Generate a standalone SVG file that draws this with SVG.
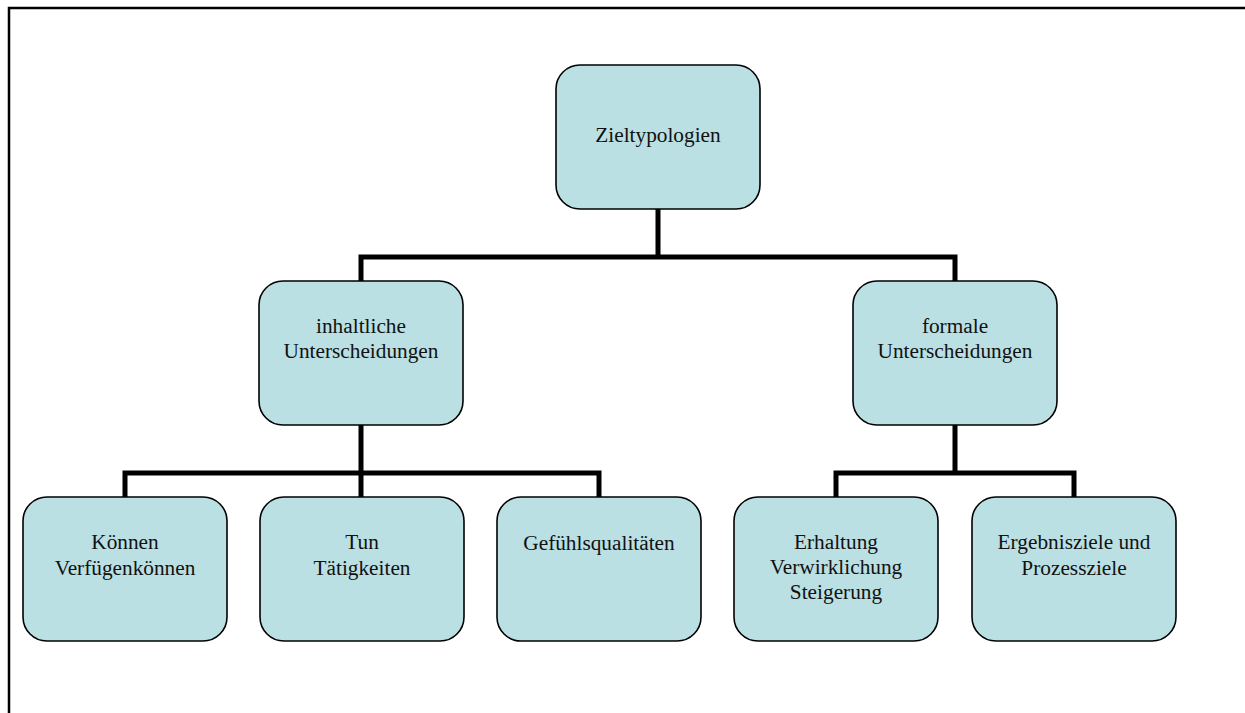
<svg xmlns="http://www.w3.org/2000/svg" width="1245" height="713" viewBox="0 0 1245 713">
<style>
.box{fill:#bbe0e3;stroke:#000;stroke-width:1.6}
.t{font-family:"Liberation Serif","Times New Roman",serif;font-size:21.3px;fill:#111;text-anchor:middle}
.c{fill:none;stroke:#000;stroke-width:5;stroke-linejoin:miter;stroke-linecap:butt}
</style>
<rect width="1245" height="713" fill="#fff"/>
<path d="M9 713 V8 H1245" fill="none" stroke="#000" stroke-width="2.5"/>
<g id="connectors">
<path class="c" d="M658 209 V257 M361 281 V257 H955 V281"/>
<path class="c" d="M361 425 V473 M125 497 V473 H599 V497 M361 473 V497"/>
<path class="c" d="M955 425 V473 M836 497 V473 H1074 V497"/>
</g>
<g id="n-ziel"><rect class="box" x="556" y="65" width="204" height="144" rx="24"/><text class="t" x="658" y="142">Zieltypologien</text></g>
<g id="n-inhalt"><rect class="box" x="259" y="281" width="204" height="144" rx="24"/><text class="t" x="361" y="333">inhaltliche</text><text class="t" x="361" y="358">Unterscheidungen</text></g>
<g id="n-formal"><rect class="box" x="853" y="281" width="204" height="144" rx="24"/><text class="t" x="955" y="333">formale</text><text class="t" x="955" y="358">Unterscheidungen</text></g>
<g id="n-koennen"><rect class="box" x="23" y="497" width="204" height="144" rx="24"/><text class="t" x="125" y="549">Können</text><text class="t" x="125" y="575">Verfügenkönnen</text></g>
<g id="n-tun"><rect class="box" x="260" y="497" width="204" height="144" rx="24"/><text class="t" x="362" y="549">Tun</text><text class="t" x="362" y="575">Tätigkeiten</text></g>
<g id="n-gefuehl"><rect class="box" x="497" y="497" width="204" height="144" rx="24"/><text class="t" x="599" y="550">Gefühlsqualitäten</text></g>
<g id="n-erhaltung"><rect class="box" x="734" y="497" width="204" height="144" rx="24"/><text class="t" x="836" y="549">Erhaltung</text><text class="t" x="836" y="574">Verwirklichung</text><text class="t" x="836" y="599">Steigerung</text></g>
<g id="n-ergebnis"><rect class="box" x="972" y="497" width="204" height="144" rx="24"/><text class="t" x="1074" y="549">Ergebnisziele und</text><text class="t" x="1074" y="575">Prozessziele</text></g>
</svg>
